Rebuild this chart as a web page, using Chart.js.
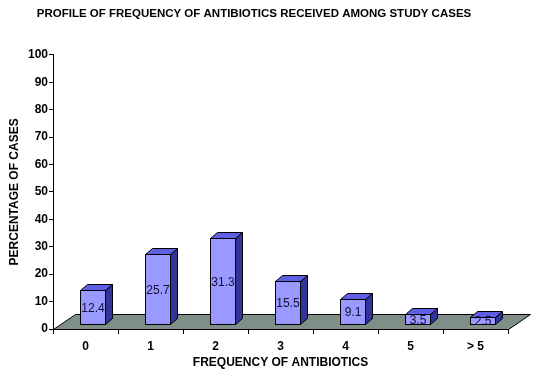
<!DOCTYPE html>
<html>
<head>
<meta charset="utf-8">
<script src="https://cdn.jsdelivr.net/npm/chart.js@4/dist/chart.umd.min.js"></script>
<style>
  html, body { margin: 0; padding: 0; background: #fff; }
  #wrap { width: 537px; height: 376px; }
</style>
</head>
<body>
<div id="wrap"><canvas id="abxChart" width="537" height="376"></canvas></div>
<script>
// data
const categories = ["0", "1", "2", "3", "4", "5", "> 5"];
const percentages = [12.4, 25.7, 31.3, 15.5, 9.1, 3.5, 2.5];

// 3d look
const FLOOR_DX = 22, FLOOR_DY = 15;   // depth of the grey floor
const BAR_DX = 7, BAR_DY = 6;         // depth of each box
const SHIFT_X = 7, LIFT = 5;          // boxes stand in the middle of the floor

const bar3d = {
  id: "bar3d",
  beforeDatasetsDraw(chart) {
    const { ctx, chartArea: a } = chart;
    ctx.save();
    ctx.beginPath();
    ctx.moveTo(a.left + 0.5, a.bottom + 0.5);
    ctx.lineTo(a.right + 0.5, a.bottom + 0.5);
    ctx.lineTo(a.right + FLOOR_DX + 0.5, a.bottom - FLOOR_DY + 0.5);
    ctx.lineTo(a.left + FLOOR_DX + 0.5, a.bottom - FLOOR_DY + 0.5);
    ctx.closePath();
    ctx.fillStyle = "#7f8e87";
    ctx.fill();
    ctx.strokeStyle = "#000";
    ctx.lineWidth = 1;
    ctx.stroke();
    ctx.restore();
  },
  afterDatasetsDraw(chart) {
    const { ctx } = chart;
    const meta = chart.getDatasetMeta(0);
    ctx.save();
    ctx.lineWidth = 1;
    ctx.strokeStyle = "#000";
    meta.data.forEach((bar, i) => {
      const p = bar.getProps(["x", "y", "base", "width"], true);
      const l = Math.round(p.x - p.width / 2 + SHIFT_X) + 0.5;
      const r = Math.round(p.x + p.width / 2 + SHIFT_X) + 0.5;
      const t = Math.round(p.y - LIFT) + 0.5;
      const b = Math.round(p.base - LIFT) + 0.5;

      // side
      ctx.beginPath();
      ctx.moveTo(r, b);
      ctx.lineTo(r + BAR_DX, b - BAR_DY);
      ctx.lineTo(r + BAR_DX, t - BAR_DY);
      ctx.lineTo(r, t);
      ctx.closePath();
      ctx.fillStyle = "#33339c";
      ctx.fill();
      ctx.stroke();

      // top
      ctx.beginPath();
      ctx.moveTo(l, t);
      ctx.lineTo(l + BAR_DX, t - BAR_DY);
      ctx.lineTo(r + BAR_DX, t - BAR_DY);
      ctx.lineTo(r, t);
      ctx.closePath();
      ctx.fillStyle = "#5f5fe6";
      ctx.fill();
      ctx.stroke();

      // front
      ctx.fillStyle = "#9999ff";
      ctx.fillRect(l, t, r - l, b - t);
      ctx.strokeRect(l, t, r - l, b - t);

      // value
      ctx.fillStyle = "#10103a";
      ctx.font = "12px 'Liberation Sans', Arial, sans-serif";
      ctx.textAlign = "center";
      ctx.textBaseline = "middle";
      ctx.fillText(String(percentages[i]), (l + r) / 2, (t + b) / 2 + 1);
    });
    ctx.restore();
  }
};

const fam = "'Liberation Sans', Arial, sans-serif";
const titleFont = { family: fam, weight: "bold", size: 11.5 };
const axisFont = { family: fam, weight: "bold", size: 12 };

new Chart(document.getElementById("abxChart").getContext("2d"), {
  type: "bar",
  data: {
    labels: categories,
    datasets: [
      {
        data: percentages,
        backgroundColor: "rgba(0,0,0,0)",
        borderWidth: 0,
        barPercentage: 0.385,
        categoryPercentage: 1,
      },
    ],
  },
  plugins: [bar3d],
  options: {
    responsive: false,
    animation: false,
    layout: { padding: { left: 0, right: 29, top: 0, bottom: 0 } },
    plugins: {
      legend: { display: false },
      tooltip: { enabled: false },
      title: {
        display: true,
        text: "PROFILE OF FREQUENCY OF ANTIBIOTICS RECEIVED AMONG STUDY CASES",
        color: "#000",
        font: titleFont,
        padding: { top: 7, bottom: 34 },
      },
    },
    scales: {
      x: {
        grid: {
          display: true,
          drawOnChartArea: false,
          drawTicks: true,
          tickLength: 5,
          color: "#000",
          offset: true,
        },
        border: { display: true, color: "#000" },
        ticks: { color: "#000", font: axisFont, padding: 5, maxRotation: 0 },
        title: {
          display: true,
          text: "FREQUENCY OF ANTIBIOTICS",
          color: "#000",
          font: axisFont,
          padding: { top: 0, bottom: 6 },
        },
        afterFit(scale) { scale.height = 47; },
      },
      y: {
        min: 0,
        max: 100,
        grid: {
          display: true,
          drawOnChartArea: false,
          drawTicks: true,
          tickLength: 4,
          color: "#000",
        },
        border: { display: true, color: "#000" },
        ticks: { stepSize: 10, color: "#000", font: axisFont, padding: 1 },
        title: {
          display: true,
          text: "PERCENTAGE OF CASES",
          color: "#000",
          font: axisFont,
          padding: { top: 7, bottom: 0 },
        },
        afterFit(scale) { scale.width = 53; },
      },
    },
  },
});
</script>
</body>
</html>
